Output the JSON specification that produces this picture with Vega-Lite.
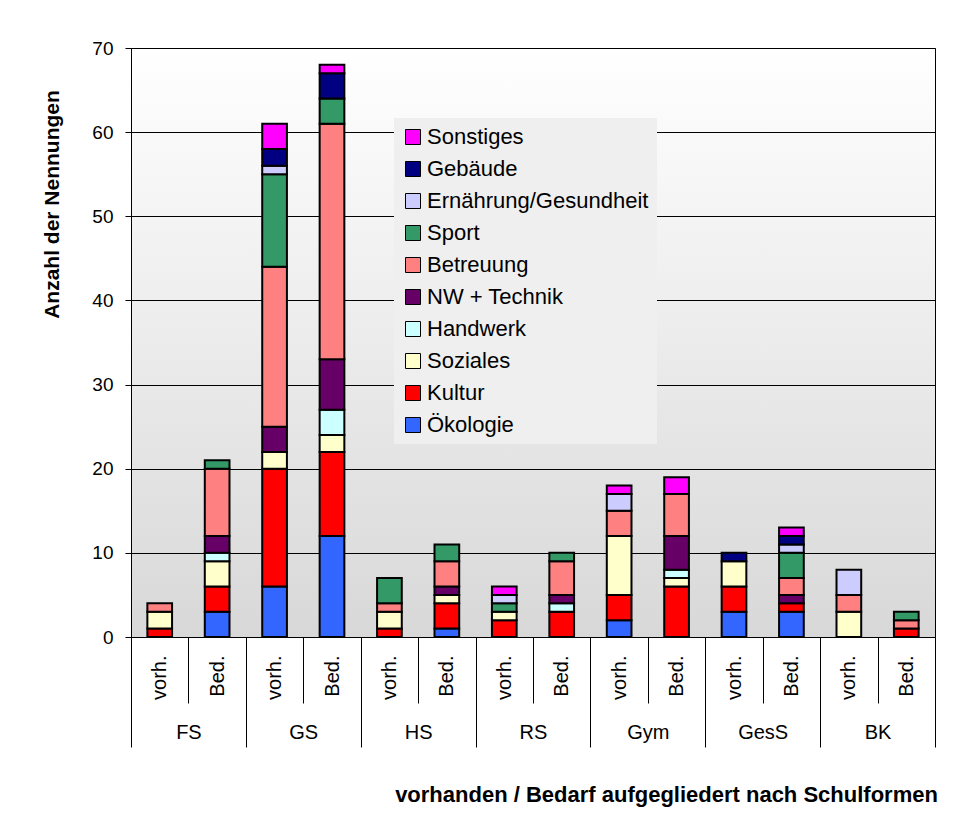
{
  "$schema": "https://vega.github.io/schema/vega-lite/v6.json",
  "width": 804,
  "height": 589,
  "autosize": "none",
  "padding": {"left": 131, "top": 48, "right": 21, "bottom": 190},
  "background": "white",
  "config": {
    "font": "Liberation Sans",
    "view": {
      "stroke": "black",
      "strokeWidth": 1,
      "fill": {"gradient": "linear", "x1": 0, "y1": 0, "x2": 0, "y2": 1, "stops": [{"offset": 0, "color": "#ffffff"}, {"offset": 1, "color": "#d8d8d8"}]}
    }
  },
  "data": {
    "values": [
      {"x": "FS vorh.", "k": "Kultur", "n": 1},
      {"x": "FS vorh.", "k": "Soziales", "n": 2},
      {"x": "FS vorh.", "k": "Betreuung", "n": 1},
      {"x": "FS Bed.", "k": "Ökologie", "n": 3},
      {"x": "FS Bed.", "k": "Kultur", "n": 3},
      {"x": "FS Bed.", "k": "Soziales", "n": 3},
      {"x": "FS Bed.", "k": "Handwerk", "n": 1},
      {"x": "FS Bed.", "k": "NW + Technik", "n": 2},
      {"x": "FS Bed.", "k": "Betreuung", "n": 8},
      {"x": "FS Bed.", "k": "Sport", "n": 1},
      {"x": "GS vorh.", "k": "Ökologie", "n": 6},
      {"x": "GS vorh.", "k": "Kultur", "n": 14},
      {"x": "GS vorh.", "k": "Soziales", "n": 2},
      {"x": "GS vorh.", "k": "NW + Technik", "n": 3},
      {"x": "GS vorh.", "k": "Betreuung", "n": 19},
      {"x": "GS vorh.", "k": "Sport", "n": 11},
      {"x": "GS vorh.", "k": "Ernährung/Gesundheit", "n": 1},
      {"x": "GS vorh.", "k": "Gebäude", "n": 2},
      {"x": "GS vorh.", "k": "Sonstiges", "n": 3},
      {"x": "GS Bed.", "k": "Ökologie", "n": 12},
      {"x": "GS Bed.", "k": "Kultur", "n": 10},
      {"x": "GS Bed.", "k": "Soziales", "n": 2},
      {"x": "GS Bed.", "k": "Handwerk", "n": 3},
      {"x": "GS Bed.", "k": "NW + Technik", "n": 6},
      {"x": "GS Bed.", "k": "Betreuung", "n": 28},
      {"x": "GS Bed.", "k": "Sport", "n": 3},
      {"x": "GS Bed.", "k": "Gebäude", "n": 3},
      {"x": "GS Bed.", "k": "Sonstiges", "n": 1},
      {"x": "HS vorh.", "k": "Kultur", "n": 1},
      {"x": "HS vorh.", "k": "Soziales", "n": 2},
      {"x": "HS vorh.", "k": "Betreuung", "n": 1},
      {"x": "HS vorh.", "k": "Sport", "n": 3},
      {"x": "HS Bed.", "k": "Ökologie", "n": 1},
      {"x": "HS Bed.", "k": "Kultur", "n": 3},
      {"x": "HS Bed.", "k": "Soziales", "n": 1},
      {"x": "HS Bed.", "k": "NW + Technik", "n": 1},
      {"x": "HS Bed.", "k": "Betreuung", "n": 3},
      {"x": "HS Bed.", "k": "Sport", "n": 2},
      {"x": "RS vorh.", "k": "Kultur", "n": 2},
      {"x": "RS vorh.", "k": "Soziales", "n": 1},
      {"x": "RS vorh.", "k": "Sport", "n": 1},
      {"x": "RS vorh.", "k": "Ernährung/Gesundheit", "n": 1},
      {"x": "RS vorh.", "k": "Sonstiges", "n": 1},
      {"x": "RS Bed.", "k": "Kultur", "n": 3},
      {"x": "RS Bed.", "k": "Handwerk", "n": 1},
      {"x": "RS Bed.", "k": "NW + Technik", "n": 1},
      {"x": "RS Bed.", "k": "Betreuung", "n": 4},
      {"x": "RS Bed.", "k": "Sport", "n": 1},
      {"x": "Gym vorh.", "k": "Ökologie", "n": 2},
      {"x": "Gym vorh.", "k": "Kultur", "n": 3},
      {"x": "Gym vorh.", "k": "Soziales", "n": 7},
      {"x": "Gym vorh.", "k": "Betreuung", "n": 3},
      {"x": "Gym vorh.", "k": "Ernährung/Gesundheit", "n": 2},
      {"x": "Gym vorh.", "k": "Sonstiges", "n": 1},
      {"x": "Gym Bed.", "k": "Kultur", "n": 6},
      {"x": "Gym Bed.", "k": "Soziales", "n": 1},
      {"x": "Gym Bed.", "k": "Handwerk", "n": 1},
      {"x": "Gym Bed.", "k": "NW + Technik", "n": 4},
      {"x": "Gym Bed.", "k": "Betreuung", "n": 5},
      {"x": "Gym Bed.", "k": "Sonstiges", "n": 2},
      {"x": "GesS vorh.", "k": "Ökologie", "n": 3},
      {"x": "GesS vorh.", "k": "Kultur", "n": 3},
      {"x": "GesS vorh.", "k": "Soziales", "n": 3},
      {"x": "GesS vorh.", "k": "Gebäude", "n": 1},
      {"x": "GesS Bed.", "k": "Ökologie", "n": 3},
      {"x": "GesS Bed.", "k": "Kultur", "n": 1},
      {"x": "GesS Bed.", "k": "NW + Technik", "n": 1},
      {"x": "GesS Bed.", "k": "Betreuung", "n": 2},
      {"x": "GesS Bed.", "k": "Sport", "n": 3},
      {"x": "GesS Bed.", "k": "Ernährung/Gesundheit", "n": 1},
      {"x": "GesS Bed.", "k": "Gebäude", "n": 1},
      {"x": "GesS Bed.", "k": "Sonstiges", "n": 1},
      {"x": "BK vorh.", "k": "Soziales", "n": 3},
      {"x": "BK vorh.", "k": "Betreuung", "n": 2},
      {"x": "BK vorh.", "k": "Ernährung/Gesundheit", "n": 3},
      {"x": "BK Bed.", "k": "Kultur", "n": 1},
      {"x": "BK Bed.", "k": "Betreuung", "n": 1},
      {"x": "BK Bed.", "k": "Sport", "n": 1}
    ]
  },
  "transform": [
    {"calculate": "indexof(['Sonstiges','Gebäude','Ernährung/Gesundheit','Sport','Betreuung','NW + Technik','Handwerk','Soziales','Kultur','Ökologie'], datum.k)", "as": "rang"}
  ],
  "layer": [
    {
      "mark": {"type": "bar", "stroke": "black", "strokeWidth": 2, "width": {"band": 0.43}},
      "encoding": {
        "x": {
          "field": "x",
          "type": "nominal",
          "scale": {
            "domain": ["FS vorh.", "FS Bed.", "GS vorh.", "GS Bed.", "HS vorh.", "HS Bed.", "RS vorh.", "RS Bed.", "Gym vorh.", "Gym Bed.", "GesS vorh.", "GesS Bed.", "BK vorh.", "BK Bed."],
            "paddingInner": 0,
            "paddingOuter": 0
          },
          "axis": {
            "orient": "bottom",
            "title": null,
            "labelExpr": "split(datum.label + '', ' ')[1]",
            "labelAngle": 270,
            "labelAlign": "right",
            "labelBaseline": "middle",
            "labelFontSize": 20,
            "labelColor": "black",
            "labelPadding": -48,
            "tickBand": "extent",
            "tickSize": 66,
            "tickColor": "black",
            "domain": false,
            "grid": false
          }
        },
        "y": {
          "field": "n",
          "type": "quantitative",
          "stack": "zero",
          "scale": {"domain": [0, 70], "nice": false},
          "axis": {
            "values": [0, 10, 20, 30, 40, 50, 60, 70],
            "title": "Anzahl der Nennungen",
            "titleFontSize": 21,
            "titleFontWeight": "bold",
            "titleColor": "black",
            "titleX": -79,
            "titleY": 156,
            "titleAlign": "center",
            "titleBaseline": "middle",
            "labelFontSize": 19,
            "labelColor": "black",
            "labelPadding": 12,
            "tickSize": 6,
            "tickColor": "black",
            "domainColor": "black",
            "gridColor": "black",
            "gridWidth": 1,
            "grid": true
          }
        },
        "color": {
          "field": "k",
          "type": "nominal",
          "scale": {
            "domain": ["Sonstiges", "Gebäude", "Ernährung/Gesundheit", "Sport", "Betreuung", "NW + Technik", "Handwerk", "Soziales", "Kultur", "Ökologie"],
            "range": ["#ff00ff", "#000080", "#ccccff", "#339966", "#ff8080", "#660066", "#ccffff", "#ffffcc", "#ff0000", "#3366ff"]
          },
          "legend": {
            "title": null,
            "orient": "none",
            "legendX": 263,
            "legendY": 70,
            "padding": 8,
            "symbolType": "square",
            "symbolSize": 225,
            "symbolStrokeColor": "black",
            "symbolStrokeWidth": 1,
            "symbolOpacity": 1,
            "labelFontSize": 22,
            "labelColor": "black",
            "labelOffset": 3,
            "labelLimit": 400,
            "rowPadding": 10,
            "fillColor": "#efefef"
          }
        },
        "order": {"field": "rang", "type": "quantitative", "sort": "descending"}
      }
    },
    {
      "mark": {"type": "point", "opacity": 0},
      "encoding": {
        "x": {
          "field": "x",
          "type": "nominal",
          "axis": {
            "orient": "bottom",
            "title": "vorhanden / Bedarf aufgegliedert nach Schulformen",
            "titleFontSize": 22,
            "titleFontWeight": "bold",
            "titleColor": "black",
            "titleX": 535,
            "titleY": 157,
            "titleAlign": "center",
            "titleBaseline": "middle",
            "labelExpr": "indexof(datum.label + '', 'vorh.') >= 0 ? split(datum.label + '', ' ')[0] : ''",
            "labelAngle": 0,
            "labelAlign": "center",
            "labelBaseline": "top",
            "labelOffset": 28.7,
            "labelFontSize": 20,
            "labelColor": "black",
            "labelPadding": -25,
            "tickBand": "extent",
            "tickSize": 110,
            "tickColor": "black",
            "tickOpacity": {"condition": {"test": "datum.value == null || indexof(datum.value + '', 'Bed.') >= 0", "value": 1}, "value": 0},
            "domain": false,
            "grid": false
          }
        }
      }
    }
  ],
  "resolve": {"axis": {"x": "independent"}}
}
